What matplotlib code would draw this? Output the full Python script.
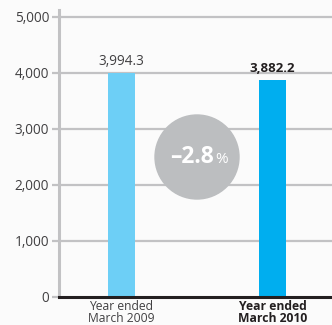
import matplotlib
matplotlib.use("Agg")
import matplotlib.pyplot as plt
from matplotlib.patches import Ellipse

categories = ["Year ended\nMarch 2009", "Year ended\nMarch 2010"]
values = [3994.3, 3882.2]
value_labels = ["3,994.3", "3,882.2"]
yticks = [0, 1000, 2000, 3000, 4000, 5000]
ytick_labels = ["0", "1,000", "2,000", "3,000", "4,000", "5,000"]
change_label = "–2.8"

plt.rcParams['font.family'] = ['Open Sans', 'DejaVu Sans']

W, H = 332, 325
fig = plt.figure(figsize=(W / 100, H / 100), dpi=100)
bg = '#fbfbfb'
fig.patch.set_facecolor(bg)
ax = fig.add_axes([59 / W, (H - 297) / H, (W - 59) / W, (297 - 10) / H])
ax.set_facecolor(bg)

x = [0, 1]
colors = ['#6dcff6', '#00aeef']
ax.bar(x, values, width=0.18, color=colors, zorder=3)

ax.set_xlim(-0.414, 1.394)
ax.set_ylim(0, 5125)

grid_c = '#c2c2c4'
for t in yticks[1:]:
    ax.axhline(t, color=grid_c, lw=1.6, zorder=1)

ax.set_yticks(yticks)
ax.set_yticklabels(ytick_labels, fontsize=9.8, color='#414042')
ax.tick_params(axis='y', length=5, width=1.6, color=grid_c, pad=2)
ax.set_xticks(x)
ax.set_xticklabels(categories, fontsize=8.7, color='#414042', linespacing=0.9)
ax.tick_params(axis='x', length=0, pad=2)
ax.get_xticklabels()[1].set_fontweight('bold')
ax.get_xticklabels()[1].set_color('#231f20')

for s in ['top', 'right']:
    ax.spines[s].set_visible(False)
ax.spines['left'].set_color(grid_c)
ax.spines['left'].set_linewidth(2.2)
ax.spines['bottom'].set_color('#231f20')
ax.spines['bottom'].set_linewidth(2.2)
ax.spines['bottom'].set_zorder(5)

# value labels above bars
ax.text(x[0], values[0] + 80, value_labels[0], ha='center', va='bottom',
        fontsize=9.8, color='#414042', zorder=4)
ax.text(x[1], values[1] + 80, value_labels[1], ha='center', va='bottom',
        fontsize=9.5, color='#231f20', fontweight='bold', zorder=4)

# change badge between the bars
cx, cy = ax.transData.transform((0.5, 2500))
fx, fy = fig.transFigure.inverted().transform((cx, cy))
fig.add_artist(Ellipse((fx, fy), 84 / W, 84 / H, transform=fig.transFigure,
                       color='#bcbec0', zorder=10))
fig.text(fx + 0.052, fy, change_label, ha='right', va='center', fontsize=16.5,
         fontweight='bold', color='white', zorder=11)
fig.text(fx + 0.054, fy - 0.008, "%", ha='left', va='center', fontsize=11,
         color='white', zorder=11)

fig.savefig("out.png", dpi=100, facecolor=bg)
